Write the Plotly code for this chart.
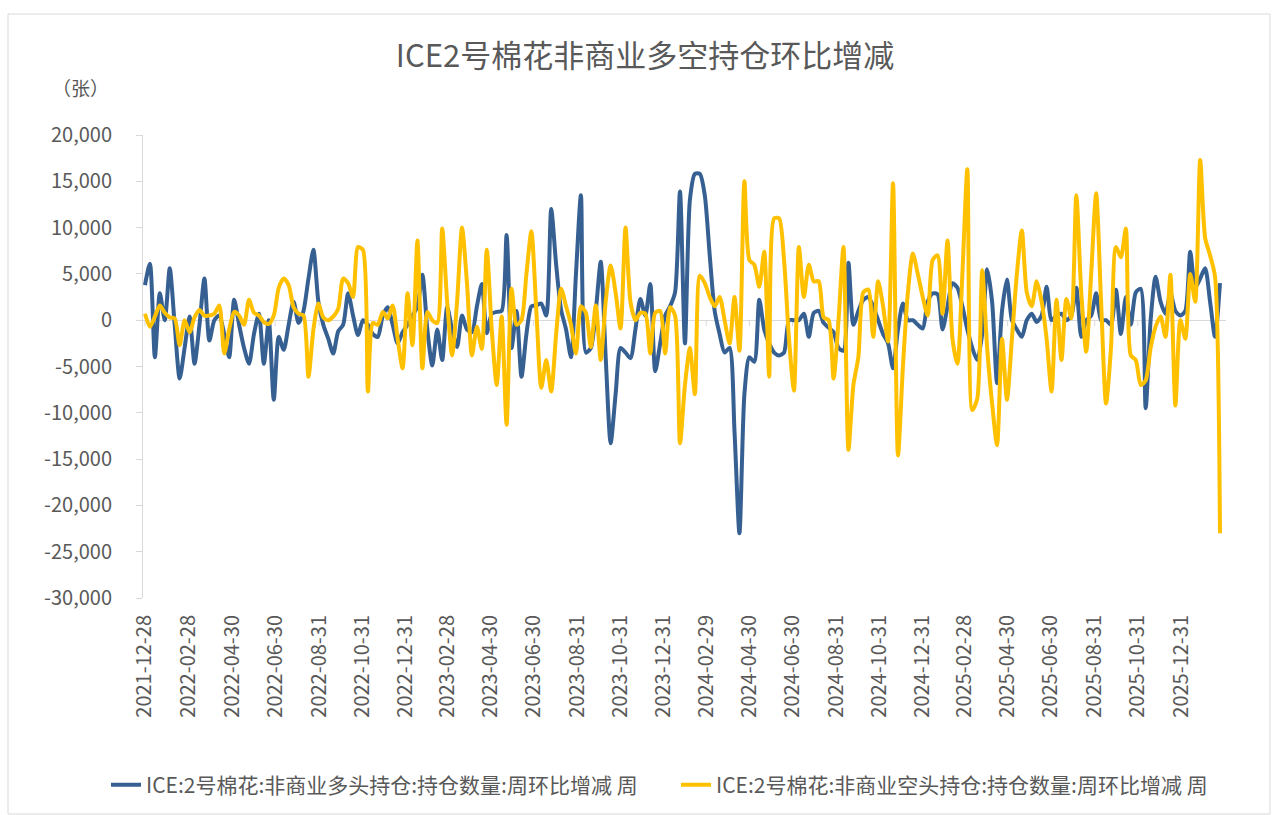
import pandas as pd
import plotly.graph_objects as go

# ---- data (weekly, starting 2021-12-28) ----
start_date = "2021-12-28"

long_chg = [
    3800, 6100, -4000, 2900, 0, 5600, -500, -6300, -3000, 400,
    -4700, -500, 4500, -2200, 0, 500, -1500, -4000, 2200, -500,
    -3000, -4700, -1500, 700, -4700, 0, -8600, -1800, -3200, -500,
    2000, -300, 1000, 4500, 7600, 2000, -500, -2000, -3600, -1200,
    -500, 2900, 500, -1600, 0, -500, -1500, -1800, 500, 1400,
    -500, -2500, -1300, -500, 500, 1500, 4900, -1000, -4900, -1000,
    -4300, 1400, -1000, -2900, 500, -1000, -1300, 1500, 3900, -1400,
    700, 900, 1000, 9200, -3000, 1000, -6100, -1500, 1500, 1600,
    1800, 500, 12000, 6000, 1100, -1000, -4000, 5000, 13500, -3500,
    -3000, 1000, 6300, -4000, -13300, -8000, -3000, -3500, -4100, -1000,
    2300, 500, 3900, -5500, -2500, 500, 1500, 3000, 13900, -2500,
    13000, 15800, 15800, 13500, 7000, 1000, -1500, -3500, -3000, -12000,
    -23000, -8000, -4000, -4500, 2200, -1000, -2500, -3500, -3800, -3500,
    0, 0, 0, 700, -1800, 800, 1000, -300, -800, -1300,
    -3000, -3300, 6200, -500, 1000, 2200, 2500, 1500, 0, -1500,
    -2500, -5200, -1000, 1800, 0, 0, -500, -900, 2000, 2900,
    2800, -1000, 1500, 4000, 3500, 1500, -1000, -3000, -4300, -1500,
    5500, 2000, -6800, 1000, 4400, 0, -1000, -1800, 0, 700,
    -200, 500, 3600, 0, 500, 700, 0, 500, 3500, -1800,
    0, 500, 2900, 0, 0, -500, 3300, -1500, 2500, -500,
    3000, 3400, -9500, 0, 4700, 2000, 700, 2900, 1000, 500,
    1000, 7400, 3500, 4500, 5600, 2000, -1800, 4000,
]

short_chg = [
    700, -700, 400, 1600, 800, 300, 200, -2700, 0, -1300,
    300, 1100, 500, 500, 700, 1600, -3600, -1000, 900, 500,
    -500, 2200, 800, 500, -200, -400, 500, 3500, 4500, 3800,
    1400, 700, 500, -6100, -1000, 1800, 300, 0, 400, 1200,
    4500, 4000, 2500, 7900, 7600, -7700, -300, -500, 900, 200,
    1600, -2000, -5200, 2900, -2700, 8600, -5200, 900, 0, -300,
    9900, 2000, -3800, 2000, 10000, 4000, -3800, -700, -3100, 7600,
    -1000, -7000, 400, -11300, 3400, -500, 0, 5000, 9600, 1000,
    -7300, -4300, -7700, -1500, 3400, 1500, -500, -3600, 1500, 800,
    -2900, 1600, -4300, 2000, 5900, 3000, -900, 10000, 2000, 0,
    800, 700, -3600, 800, 1000, -3600, 1400, 500, -13300, -7000,
    -3000, -8000, 4800, 4000, 2500, 1500, 2500, 0, -2500, 2500,
    -3300, 15000, 6500, 6000, 3600, 7400, -6100, 11000, 11000, 6500,
    -2000, -7600, 7900, 2500, 6000, 4200, 4200, 300, 0, -6300,
    0, 7900, -14000, -7000, -4000, 3000, 3300, -1800, 4200, 1500,
    -2300, 14800, -14600, -5000, 3000, 7200, 5000, 2500, 500, 6500,
    7000, 700, 8600, -2000, -4700, 5000, 16300, -9700, -8500, 5400,
    -3000, -9000, -13500, -2000, -8600, -2000, 5000, 9700, 3000, 1500,
    4200, 2000, -2000, -7700, 2200, -4300, 2300, 200, 13500, 3000,
    -3400, 5000, 13700, 2000, -9000, -3000, 7900, 6800, 9900, -3800,
    -4300, -7000, -6500, -3000, -700, 400, -1800, 4900, -9200, 0,
    -2000, 5000, 2000, 17300, 8900, 7000, 4700, -23000,
]

x_tick_dates = [
    "2021-12-28", "2022-02-28", "2022-04-30", "2022-06-30", "2022-08-31",
    "2022-10-31", "2022-12-31", "2023-02-28", "2023-04-30", "2023-06-30",
    "2023-08-31", "2023-10-31", "2023-12-31", "2024-02-29", "2024-04-30",
    "2024-06-30", "2024-08-31", "2024-10-31", "2024-12-31", "2025-02-28",
    "2025-04-30", "2025-06-30", "2025-08-31", "2025-10-31", "2025-12-31",
]

y_tick_vals = [20000, 15000, 10000, 5000, 0, -5000, -10000, -15000, -20000, -25000, -30000]
y_tick_text = ["20,000", "15,000", "10,000", "5,000", "0", "-5,000", "-10,000",
               "-15,000", "-20,000", "-25,000", "-30,000"]

name_long = "ICE:2号棉花:非商业多头持仓:持仓数量:周环比增减 周"
name_short = "ICE:2号棉花:非商业空头持仓:持仓数量:周环比增减 周"
title_text = "ICE2号棉花非商业多空持仓环比增减"
unit_text = "（张）"

# ---- figure ----
dates_long = pd.date_range(start=start_date, periods=len(long_chg), freq="7D")
dates_short = pd.date_range(start=start_date, periods=len(short_chg), freq="7D")

FONT = "Noto Sans CJK SC"
TXT = "#595959"
AX = "#d9d9d9"

fig = go.Figure()
fig.add_trace(go.Scatter(
    x=dates_long, y=long_chg, name=name_long, mode="lines", legend="legend",
    line=dict(color="#376092", width=4, shape="spline", smoothing=0.7),
))
fig.add_trace(go.Scatter(
    x=dates_short, y=short_chg, name=name_short, mode="lines", legend="legend2",
    line=dict(color="#FFC000", width=4, shape="spline", smoothing=0.7),
))

L, R, T, B = 143, 46, 135, 217
W, H = 1272, 815
pw, ph = W - L - R, H - T - B

def px_x(X):
    return (X - L) / pw

def px_y(Y):
    return (H - B - Y) / ph

shapes = [dict(type="rect", xref="paper", yref="paper",
               x0=px_x(8), x1=px_x(1270), y0=px_y(814), y1=px_y(14),
               line=dict(color=AX, width=1), layer="below")]
for d in x_tick_dates:
    shapes.append(dict(type="line", xref="x", yref="y", x0=d, x1=d,
                       ysizemode="pixel", yanchor=0, y0=0, y1=-6,
                       line=dict(color=AX, width=1), layer="below"))

legend_style = dict(orientation="h", xanchor="left", yanchor="middle",
                    y=px_y(785), bgcolor="rgba(0,0,0,0)",
                    font=dict(family=FONT, size=21, color=TXT))

fig.update_layout(
    width=W, height=H,
    margin=dict(l=L, r=R, t=T, b=B, autoexpand=False),
    paper_bgcolor="white", plot_bgcolor="white",
    font=dict(family=FONT, color=TXT, size=20),
    title=dict(text=title_text, x=645 / W, xanchor="center",
               y=1 - 56 / H, yanchor="middle",
               font=dict(family=FONT, size=31, color=TXT)),
    showlegend=True,
    legend=dict(x=px_x(106), **legend_style),
    legend2=dict(x=px_x(676), **legend_style),
    shapes=shapes,
    annotations=[dict(text=unit_text, xref="paper", yref="paper",
                      x=px_x(80), y=px_y(87), xanchor="center", yanchor="middle",
                      showarrow=False, font=dict(family=FONT, size=19, color=TXT))],
)

fig.update_xaxes(
    type="date",
    range=["2021-12-25 05:00", "2026-03-04 12:00"],
    tickvals=x_tick_dates, ticktext=x_tick_dates,
    tickangle=-90, showgrid=False, showline=False, zeroline=False,
    ticks="", ticklabelstandoff=12,
    tickfont=dict(family=FONT, size=20, color=TXT),
)
fig.update_yaxes(
    range=[-30000, 20000],
    tickvals=y_tick_vals, ticktext=y_tick_text,
    showgrid=False, showline=True, linecolor=AX, linewidth=1,
    ticks="outside", ticklen=6, tickcolor=AX,
    zeroline=True, zerolinecolor=AX, zerolinewidth=1,
    ticklabelstandoff=20,
    tickfont=dict(family=FONT, size=20, color=TXT),
)

fig.write_html("out.html", config={"displayModeBar": False},
               post_script="document.body.style.margin='0px';")
